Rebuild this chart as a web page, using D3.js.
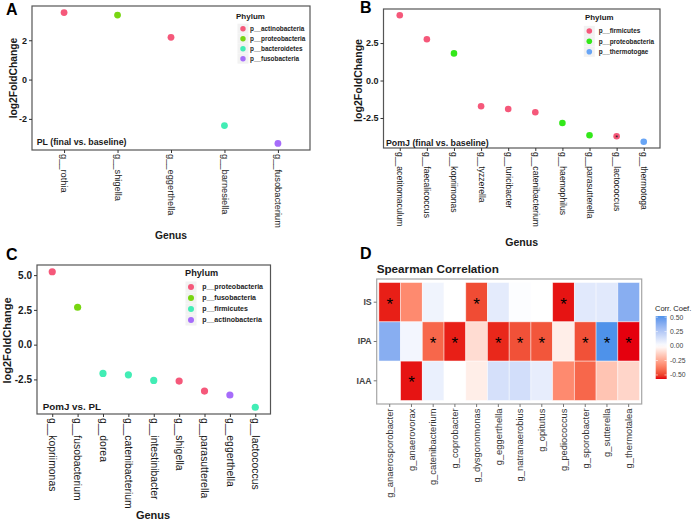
<!DOCTYPE html>
<html><head><meta charset="utf-8">
<script src="https://cdn.jsdelivr.net/npm/d3@7"></script>
<style>
body{margin:0;background:#fff;}
svg{display:block;font-family:"Liberation Sans",Arial,Helvetica,sans-serif;}
</style></head><body>
<svg id="chart" width="697" height="522"></svg>
<script>
// ---------- Panel A data ----------
const catsA = ["g__rothia","g__shigella","g__eggerthella","g__barnesiella","g__fusobacterium"];
const valsA = [3.41, 3.28, 2.15, -2.34, -3.25];
const phylaA = ["p__actinobacteria","p__proteobacteria","p__actinobacteria","p__bacteroidetes","p__fusobacteria"];
const legendA = ["p__actinobacteria","p__proteobacteria","p__bacteroidetes","p__fusobacteria"];
const colorsA = ["#F5587A","#78D611","#42EDB5","#A66CFA"];
const ticksA = [-2, 0, 2];

// ---------- Panel B data ----------
const catsB = ["g__acetitomaculum","g__faecalicoccus","g__kopriimonas","g__tyzzerella","g__turicibacter","g__catenibacterium","g__haemophilus","g__parasutterella","g__lactococcus","g__thermotoga"];
const valsB = [4.35, 2.75, 1.81, -1.72, -1.90, -2.12, -2.83, -3.65, -3.72, -4.08];
const phylaB = ["p__firmicutes","p__firmicutes","p__proteobacteria","p__firmicutes","p__firmicutes","p__firmicutes","p__proteobacteria","p__proteobacteria","p__firmicutes","p__thermotogae"];
const legendB = ["p__firmicutes","p__proteobacteria","p__thermotogae"];
const colorsB = ["#F5587A","#33E81A","#68A5F5"];
const ticksB = [-2.5, 0, 2.5];
const starB = ["g__lactococcus"];

// ---------- Panel C data ----------
const catsC = ["g__kopriimonas","g__fusobacterium","g__dorea","g__catenibacterium","g__intestinibacter","g__shigella","g__parasutterella","g__eggerthella","g__lactococcus"];
const valsC = [5.24, 2.69, -2.07, -2.17, -2.57, -2.62, -3.34, -3.62, -4.50];
const phylaC = ["p__proteobacteria","p__fusobacteria","p__firmicutes","p__firmicutes","p__firmicutes","p__proteobacteria","p__proteobacteria","p__actinobacteria","p__firmicutes"];
const legendC = ["p__proteobacteria","p__fusobacteria","p__firmicutes","p__actinobacteria"];
const colorsC = ["#F5587A","#78D611","#42EDB5","#A66CFA"];
const ticksC = [-2.5, 0, 2.5, 5];

// ---------- Panel D data ----------
const genusD = ["g_anaerosporobacter","g_anaerovorax","g_catenibacterium","g_coprobacter","g_dysgonomonas","g_eggerthella","g_natranaerobius","g_opitutus","g_pediococcus","g_sporobacter","g_sutterella","g_thermotalea"];
const rowsD = ["IS","IPA","IAA"];
const corrIS  = [-0.55,-0.33, 0.05, 0.00,-0.48, 0.09, 0.01, 0.00,-0.56, 0.10, 0.10, 0.38];
const corrIPA = [ 0.38, 0.04,-0.42,-0.55,-0.10,-0.54,-0.47,-0.46,-0.05,-0.47, 0.52,-0.57];
const corrIAA = [ 0.00,-0.56, 0.07, 0.00,-0.05, 0.14, 0.15, 0.08,-0.33,-0.42,-0.17,-0.12];
const sigIS  = [1,0,0,0,1,0,0,0,1,0,0,0];
const sigIPA = [0,0,1,1,0,1,1,1,0,1,1,1];
const sigIAA = [0,1,0,0,0,0,0,0,0,0,0,0];
const legendTicksD = [-0.5, -0.25, 0, 0.25, 0.5];

const FONT = '"Liberation Sans",Arial,Helvetica,sans-serif';
const svg = d3.select("#chart");

function txt(g, s, x, y, fs, opts = {}) {
  const t = g.append("text").attr("x", x).attr("y", y).attr("font-size", fs)
    .attr("font-weight", opts.bold ? "bold" : "normal")
    .attr("fill", opts.fill || "#1a1a1a")
    .attr("text-anchor", opts.anchor || "start").text(s);
  if (opts.transform) t.attr("transform", opts.transform);
  if (opts.dy) t.attr("dy", opts.dy);
  return t;
}

function scatterPanel(c) {
  const g = svg.append("g");
  const b = c.box;
  const x = d3.scalePoint().domain(c.cats).range([b.x0, b.x1]).padding(0.6);
  const ext = d3.extent(c.vals), pad = (ext[1] - ext[0]) * 0.05;
  const y = d3.scaleLinear().domain([ext[0] - pad, ext[1] + pad]).range([b.y1, b.y0]);
  const color = d3.scaleOrdinal().domain(c.legend).range(c.colors);

  g.selectAll("circle.pt").data(c.cats).join("circle").attr("class", "pt")
    .attr("cx", d => x(d)).attr("cy", (d, i) => y(c.vals[i])).attr("r", c.r)
    .attr("fill", (d, i) => color(c.phyla[i]));

  if (c.stars) {
    g.selectAll("text.st").data(c.stars).join("text").attr("class", "st")
      .attr("x", d => x(d)).attr("y", d => y(c.vals[c.cats.indexOf(d)]) + 3.6)
      .attr("text-anchor", "middle").attr("font-size", 7).attr("fill", "#111").text("*");
  }

  g.append("rect").attr("x", b.x0).attr("y", b.y0).attr("width", b.x1 - b.x0).attr("height", b.y1 - b.y0)
    .attr("fill", "none").attr("stroke", "#555").attr("stroke-width", 1.2);

  const ya = g.append("g").attr("transform", `translate(${b.x0},0)`)
    .call(d3.axisLeft(y).tickValues(c.ticks).tickFormat(c.fmt).tickSize(3).tickPadding(2));
  ya.attr("font-family", FONT);
  ya.select(".domain").remove();
  ya.selectAll("line").attr("stroke", "#333");
  ya.selectAll("text").attr("font-size", c.tickFs).attr("font-weight", "bold").attr("fill", "#1a1a1a");

  const xa = g.append("g").attr("transform", `translate(0,${b.y1})`)
    .call(d3.axisBottom(x).tickSize(3));
  xa.attr("font-family", FONT);
  xa.select(".domain").remove();
  xa.selectAll("line").attr("stroke", "#333");
  xa.selectAll("text").attr("transform", "rotate(90)").attr("x", 4).attr("y", 0).attr("dy", "0.35em")
    .attr("text-anchor", "start").attr("font-size", c.xFs).attr("fill", "#1a1a1a");

  // legend
  const L = c.leg;
  txt(g, "Phylum", L.tx, L.ty, L.tfs, { bold: true });
  c.legend.forEach((p, i) => {
    const cy = L.cy[i];
    g.append("rect").attr("x", L.cx - L.kw / 2).attr("y", cy - L.kh / 2).attr("width", L.kw).attr("height", L.kh).attr("fill", "#F2F2F2");
    g.append("circle").attr("cx", L.cx).attr("cy", cy).attr("r", L.r).attr("fill", color(p));
    txt(g, p, L.lx, cy + L.lfs * 0.35, L.lfs, { bold: true, fill: "#222" });
  });

  // annotation
  txt(g, c.note, c.noteX, c.noteY, c.noteFs, { bold: true });
  // axis titles
  txt(g, "log2FoldChange", 0, 0, c.titleFs, { bold: true, anchor: "middle", dy: "0.36em",
    transform: `translate(${c.yTitle[0]},${c.yTitle[1]}) rotate(-90)` });
  txt(g, "Genus", c.xTitle[0], c.xTitle[1], c.titleFs, { bold: true, anchor: "middle" });
  txt(g, c.letter[0], c.letter[1], c.letter[2], 16, { bold: true, fill: "#000" });
}

const fmt0 = d => d.toFixed(0), fmt1 = d => d.toFixed(1);

scatterPanel({
  cats: catsA, vals: valsA, phyla: phylaA, legend: legendA, colors: colorsA, ticks: ticksA, fmt: fmt0,
  box: { x0: 32, x1: 310, y0: 6, y1: 150 }, r: 3.4, tickFs: 9, xFs: 9.3,
  leg: { tx: 236, ty: 18.6, tfs: 8, cx: 243, cy: [28.7, 38.7, 48.7, 58.7], r: 2.7, kw: 11, kh: 10, lx: 250, lfs: 6.4 },
  note: "PL (final vs. baseline)", noteX: 36.7, noteY: 145.4, noteFs: 8.8,
  titleFs: 10.3, yTitle: [13, 78], xTitle: [171, 238.7], letter: ["A", 6, 15]
});

scatterPanel({
  cats: catsB, vals: valsB, phyla: phylaB, legend: legendB, colors: colorsB, ticks: ticksB, fmt: fmt1,
  box: { x0: 383.5, x1: 660, y0: 9, y1: 148 }, r: 3.3, tickFs: 9, xFs: 8.6, stars: starB,
  leg: { tx: 585, ty: 20.2, tfs: 7.9, cx: 589.3, cy: [31, 41.3, 51.7], r: 2.8, kw: 11, kh: 10.3, lx: 598.7, lfs: 6.4 },
  note: "PomJ (final vs. baseline)", noteX: 386, noteY: 145.8, noteFs: 8.8,
  titleFs: 10.6, yTitle: [357.7, 80.5], xTitle: [521.7, 245.5], letter: ["B", 360, 13]
});

scatterPanel({
  cats: catsC, vals: valsC, phyla: phylaC, legend: legendC, colors: colorsC, ticks: ticksC, fmt: fmt1,
  box: { x0: 37, x1: 270.5, y0: 265, y1: 414 }, r: 3.6, tickFs: 10, xFs: 10.4,
  leg: { tx: 185, ty: 275.6, tfs: 9.2, cx: 191, cy: [287, 298, 309, 320], r: 3.0, kw: 11, kh: 11, lx: 202.3, lfs: 7 },
  note: "PomJ vs. PL", noteX: 42.7, noteY: 409.5, noteFs: 9.8,
  titleFs: 11, yTitle: [7.5, 340.5], xTitle: [153, 519], letter: ["C", 6, 260]
});

// ---------- Panel D heatmap ----------
(function () {
  const g = svg.append("g");
  const b = { x0: 376.7, x1: 641.7, y0: 279, y1: 404 };
  const x = d3.scaleBand().domain(genusD).range([b.x0, b.x1]).paddingInner(0).paddingOuter(0.1);
  const y = d3.scaleBand().domain(rowsD).range([b.y0, b.y1]).paddingInner(0).paddingOuter(0.09);
  const corr = { IS: corrIS, IPA: corrIPA, IAA: corrIAA };
  const sig = { IS: sigIS, IPA: sigIPA, IAA: sigIAA };
  const allVals = corrIS.concat(corrIPA, corrIAA);
  const lim = [d3.min(allVals), d3.max(allVals)];
  const maxAbs = Math.max(-lim[0], lim[1]);
  const lowI = d3.interpolateLab("#ffffff", "#E5000E");
  const highI = d3.interpolateLab("#ffffff", "#2F88E8");
  const fill = v => v < 0 ? lowI(Math.min(1, -v / maxAbs)) : highI(Math.min(1, v / maxAbs));

  const cells = [];
  rowsD.forEach(r => genusD.forEach((gname, i) => cells.push({ r, g: gname, v: corr[r][i], s: sig[r][i] })));

  g.selectAll("rect.cell").data(cells).join("rect").attr("class", "cell")
    .attr("x", d => x(d.g)).attr("y", d => y(d.r)).attr("width", x.bandwidth()).attr("height", y.bandwidth())
    .attr("fill", d => fill(d.v)).attr("stroke", "#fff").attr("stroke-opacity", 0.55).attr("stroke-width", 0.8);

  g.selectAll("text.star").data(cells.filter(d => d.s)).join("text").attr("class", "star")
    .attr("x", d => x(d.g) + x.bandwidth() / 2).attr("y", d => y(d.r) + y.bandwidth() / 2 + 7.5)
    .attr("text-anchor", "middle").attr("font-size", 17).attr("fill", "#000").text("*");

  g.append("rect").attr("x", b.x0).attr("y", b.y0).attr("width", b.x1 - b.x0).attr("height", b.y1 - b.y0)
    .attr("fill", "none").attr("stroke", "#A6A6A6").attr("stroke-width", 1.2);

  const ya = g.append("g").attr("transform", `translate(${b.x0},0)`).call(d3.axisLeft(y).tickSize(3).tickPadding(2));
  ya.attr("font-family", FONT);
  ya.select(".domain").remove();
  ya.selectAll("line").attr("stroke", "#777");
  ya.selectAll("text").attr("font-size", 8.8).attr("font-weight", "bold").attr("fill", "#444");

  const xa = g.append("g").attr("transform", `translate(0,${b.y1})`).call(d3.axisBottom(x).tickSize(3));
  xa.attr("font-family", FONT);
  xa.select(".domain").remove();
  xa.selectAll("line").attr("stroke", "#777");
  xa.selectAll("text").attr("transform", "rotate(-90)").attr("x", -4.5).attr("y", 0).attr("dy", "0.35em")
    .attr("text-anchor", "end").attr("font-size", 9.4).attr("fill", "#333");

  txt(g, "Spearman Correlation", b.x0, 273, 11.7, { bold: true });
  txt(g, "D", 360, 259, 16, { bold: true, fill: "#000" });

  // colorbar legend
  const cb = { x: 655.7, w: 11, y0: 316, y1: 379 };
  const cy = d3.scaleLinear().domain(lim).range([cb.y1, cb.y0]);
  const defs = svg.append("defs");
  const grad = defs.append("linearGradient").attr("id", "cbar").attr("x1", 0).attr("y1", 1).attr("x2", 0).attr("y2", 0);
  d3.range(0, 1.0001, 0.05).forEach(t => {
    const v = lim[0] + t * (lim[1] - lim[0]);
    grad.append("stop").attr("offset", t).attr("stop-color", fill(v));
  });
  g.append("rect").attr("x", cb.x).attr("y", cb.y0).attr("width", cb.w).attr("height", cb.y1 - cb.y0).attr("fill", "url(#cbar)");
  legendTicksD.forEach(v => {
    const yy = cy(v);
    g.append("line").attr("x1", cb.x).attr("x2", cb.x + 2.2).attr("y1", yy).attr("y2", yy).attr("stroke", "#fff").attr("stroke-width", 0.6);
    g.append("line").attr("x1", cb.x + cb.w - 2.2).attr("x2", cb.x + cb.w).attr("y1", yy).attr("y2", yy).attr("stroke", "#fff").attr("stroke-width", 0.6);
    txt(g, v.toFixed(2), 670, yy + 2.4, 6.8, { fill: "#444" });
  });
  txt(g, "Corr. Coef.", 655, 311, 7.5, { fill: "#222" });
})();
</script>
</body></html>
